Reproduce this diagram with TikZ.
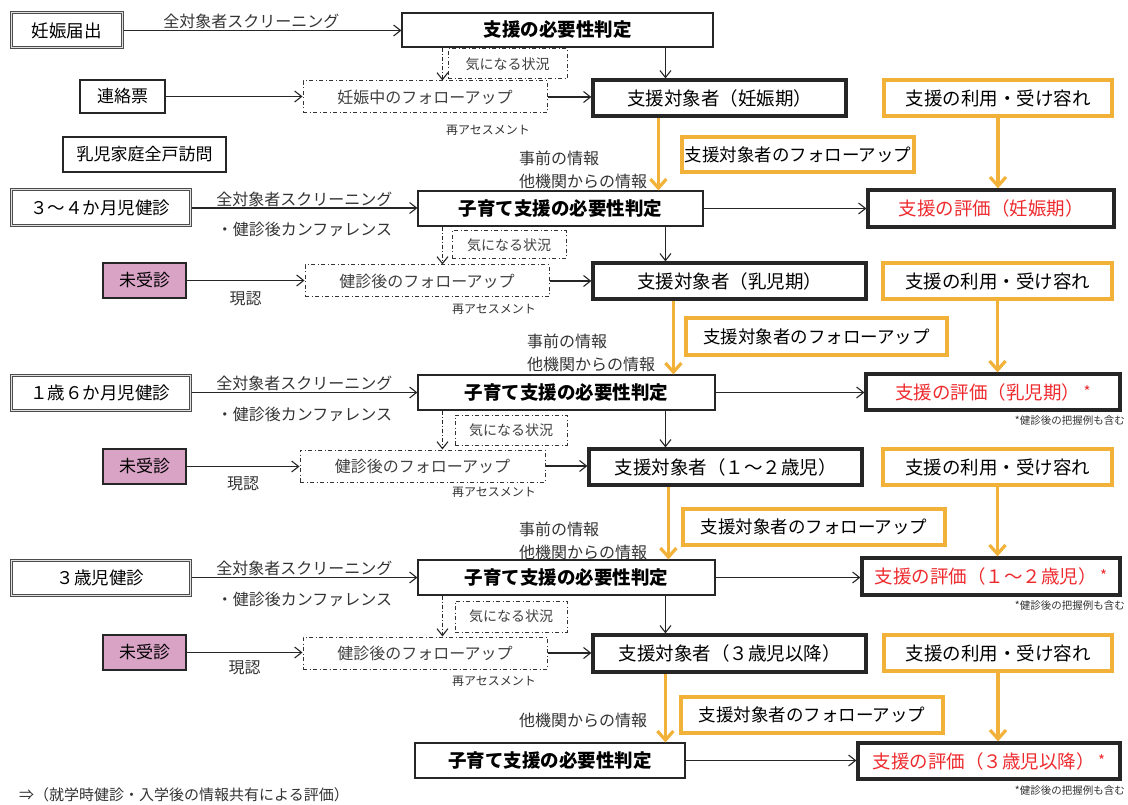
\documentclass[tikz,border=0pt]{standalone}
\usepackage{fontspec}
\setmainfont{Noto Sans CJK JP}
\usetikzlibrary{arrows.meta}
\definecolor{amber}{HTML}{F2B23A}
\definecolor{evalred}{HTML}{EE2A2E}
\definecolor{mauve}{HTML}{D9A3C6}
\newcommand{\evalstar}{\,\raisebox{2pt}{\fontsize{15}{15}\selectfont *}}

\begin{document}
\begin{tikzpicture}[x=1pt, y=-1pt,
  intake/.style={draw=black!70, line width=3pt, postaction={draw=black!12, line width=1pt}, minimum height=35pt, inner sep=0pt, font=\fontsize{17.5}{19}\selectfont},
  plain/.style={draw=black!85, line width=1.1pt, minimum height=34pt, inner sep=0pt, font=\fontsize{17}{19}\selectfont},
  miss/.style={plain, fill=mauve, minimum width=83, minimum height=35},
  judge/.style={draw=black!85, line width=1.1pt, minimum height=35pt, inner sep=0pt, font=\fontsize{18.5}{20}\selectfont\bfseries},
  target/.style={draw=black!85, line width=3.2pt, minimum height=36pt, inner sep=0pt, font=\fontsize{18.5}{20}\selectfont},
  evalbox/.style={target, text=evalred},
  useamb/.style={target, draw=amber, line width=3.1pt},
  ofubox/.style={useamb, font=\fontsize{17.5}{20}\selectfont},
  fubox/.style={draw=black!80, line width=1pt, dash pattern=on 4pt off 2.5pt on 1pt off 2.5pt, minimum height=32pt, inner sep=0pt, text=black!75, font=\fontsize{16}{18}\selectfont},
  worry/.style={fubox, font=\fontsize{14}{16}\selectfont},
  lbl/.style={inner sep=1pt, text=black!80, font=\fontsize{16}{18}\selectfont},
  info/.style={lbl, align=left, anchor=north west, font=\fontsize{16}{23}\selectfont},
  tiny/.style={inner sep=0pt, text=black!80, font=\fontsize{10.5}{12}\selectfont},
  reass/.style={tiny, font=\fontsize{12}{14}\selectfont},
  arr/.style={-{Straight Barb[length=7pt, width=11pt]}, line width=1.1pt, draw=black!85},
  dda/.style={arr, dash pattern=on 4pt off 2pt on 1pt off 2pt},
  amb/.style={-{Straight Barb[length=9pt, width=16pt]}, line width=3.2pt, draw=amber}
]
\useasboundingbox (0,0) rectangle (1128,805);

\node[intake, minimum width=111] (preg) at (66.5,30.5) {妊娠届出};
\node[judge, minimum width=311, minimum height=34] (judgeA) at (557.5,30) {支援の必要性判定};
\node[worry, minimum width=119, minimum height=30] (worryA) at (507.5,64) {気になる状況};
\node[plain, minimum width=85, minimum height=33] (memo) at (122.5,96.5) {連絡票};
\node[fubox, minimum width=244] (fuA) at (425,97) {妊娠中のフォローアップ};
\node[target, minimum width=253] (targA) at (719.5,98) {支援対象者（妊娠期）};
\node[useamb, minimum width=228] (useA) at (998,98) {支援の利用・受け容れ};
\node[reass] (reA) at (488,130) {再アセスメント};
\node[plain, minimum width=163, minimum height=35] (visit) at (144.5,154.5) {乳児家庭全戸訪問};
\node[ofubox, minimum width=232, minimum height=35] (ofuA) at (798,154.5) {支援対象者のフォローアップ};
\node[info] (infoA) at (518,150) {事前の情報\\他機関からの情報};

\node[intake, minimum width=179, minimum height=36] (chkA) at (100.5,208) {３～４か月児健診};
\node[judge, minimum width=285] (judgeB) at (560.5,208.5) {子育て支援の必要性判定};
\node[evalbox, minimum width=246, minimum height=37] (evalA) at (991,208.5) {支援の評価（妊娠期）};
\node[worry, minimum width=114, minimum height=28] (worryB) at (509,245) {気になる状況};
\node[miss] (missA) at (144.5,280.5) {未受診};
\node[fubox, minimum width=244] (fuB) at (427,281) {健診後のフォローアップ};
\node[target, minimum width=273] (targB) at (729.5,281) {支援対象者（乳児期）};
\node[useamb, minimum width=229] (useB) at (997.5,281) {支援の利用・受け容れ};
\node[reass] (reB) at (494,309) {再アセスメント};
\node[ofubox, minimum width=261, minimum height=37] (ofuB) at (816.5,336.5) {支援対象者のフォローアップ};
\node[info] (infoB) at (526,333) {事前の情報\\他機関からの情報};

\node[intake, minimum width=179] (chkB) at (100.5,392.5) {１歳６か月児健診};
\node[judge, minimum width=297] (judgeC) at (566.5,392.5) {子育て支援の必要性判定};
\node[evalbox, minimum width=254] (evalB) at (993,392) {支援の評価（乳児期）\evalstar};
\node[tiny, anchor=east] (noteB) at (1125,421) {*健診後の把握例も含む};
\node[worry, minimum width=112, minimum height=30] (worryC) at (511,430) {気になる状況};
\node[miss] (missB) at (144.5,466.5) {未受診};
\node[fubox, minimum width=245] (fuC) at (422.5,466) {健診後のフォローアップ};
\node[target, minimum width=273] (targC) at (725.5,467) {支援対象者（１～２歳児）};
\node[useamb, minimum width=229] (useC) at (997.5,467) {支援の利用・受け容れ};
\node[reass] (reC) at (494,492) {再アセスメント};
\node[ofubox, minimum width=262] (ofuC) at (814,527) {支援対象者のフォローアップ};
\node[info] (infoC) at (518,521) {事前の情報\\他機関からの情報};

\node[intake, minimum width=179] (chkC) at (100.5,577.5) {３歳児健診};
\node[judge, minimum width=297] (judgeD) at (566.5,577.5) {子育て支援の必要性判定};
\node[evalbox, minimum width=258, minimum height=37] (evalC) at (991,576.5) {支援の評価（１～２歳児）\evalstar};
\node[tiny, anchor=east] (noteC) at (1125,606) {*健診後の把握例も含む};
\node[worry, minimum width=112, minimum height=31] (worryD) at (511,616.5) {気になる状況};
\node[miss] (missC) at (144.5,652.5) {未受診};
\node[fubox, minimum width=244] (fuD) at (425,653) {健診後のフォローアップ};
\node[target, minimum width=273, minimum height=37] (targD) at (729.5,653.5) {支援対象者（３歳児以降）};
\node[useamb, minimum width=228] (useD) at (998,653) {支援の利用・受け容れ};
\node[reass] (reD) at (494,681) {再アセスメント};
\node[ofubox, minimum width=262] (ofuD) at (812,715) {支援対象者のフォローアップ};
\node[info] (infoD) at (518,712) {他機関からの情報};

\node[judge, minimum width=270] (judgeE) at (550,760.5) {子育て支援の必要性判定};
\node[evalbox, minimum width=262] (evalD) at (989,761) {支援の評価（３歳児以降）\evalstar};
\node[tiny, anchor=east] (noteD) at (1125,791) {*健診後の把握例も含む};
\node[lbl, anchor=west, font=\fontsize{15}{17}\selectfont] (after) at (18,795) {⇒（就学時健診・入学後の情報共有による評価）};

\draw[arr] (preg.east) -- node[lbl, above, pos=0.46] (scrA) {全対象者スクリーニング} (preg.east -| judgeA.west);
\draw[dda] ([xshift=41]judgeA.south west) -- ([xshift=41]judgeA.south west |- fuA.north);
\draw[arr] ([xshift=264]judgeA.south west) -- ([xshift=264]judgeA.south west |- targA.north);
\draw[arr] (memo.east) -- (memo.east -| fuA.west);
\draw[arr] (fuA.east) -- (fuA.east -| targA.west);
\draw[amb] ([xshift=67]targA.south west) -- ([xshift=67]targA.south west |- judgeB.north);
\draw[amb] (useA.south) -- (useA.south |- evalA.north);

\draw[arr] (chkA.east) -- node[lbl, above] (scrB) {全対象者スクリーニング} node[lbl, below=13pt] (confB) {・健診後カンファレンス} (chkA.east -| judgeB.west);
\draw[arr] (judgeB.east) -- (judgeB.east -| evalA.west);
\draw[dda] ([xshift=25]judgeB.south west) -- ([xshift=25]judgeB.south west |- fuB.north);
\draw[arr] ([xshift=248]judgeB.south west) -- ([xshift=248]judgeB.south west |- targB.north);
\draw[arr] (missA.east) -- node[lbl, below=10pt] (seenA) {現認} (missA.east -| fuB.west);
\draw[arr] (fuB.east) -- (fuB.east -| targB.west);
\draw[amb] ([xshift=82]targB.south west) -- ([xshift=82]targB.south west |- judgeC.north);
\draw[amb] (useB.south) -- (useB.south |- evalB.north);

\draw[arr] (chkB.east) -- node[lbl, above] (scrC) {全対象者スクリーニング} node[lbl, below=13pt] (confC) {・健診後カンファレンス} (chkB.east -| judgeC.west);
\draw[arr] (judgeC.east) -- (judgeC.east -| evalB.west);
\draw[dda] ([xshift=25]judgeC.south west) -- ([xshift=25]judgeC.south west |- fuC.north);
\draw[arr] ([xshift=248]judgeC.south west) -- ([xshift=248]judgeC.south west |- targC.north);
\draw[arr] (missB.east) -- node[lbl, below=9pt] (seenB) {現認} (missB.east -| fuC.west);
\draw[arr] (fuC.east) -- (fuC.east -| targC.west);
\draw[amb] ([xshift=81]targC.south west) -- ([xshift=81]targC.south west |- judgeD.north);
\draw[amb] (useC.south) -- (useC.south |- evalC.north);

\draw[arr] (chkC.east) -- node[lbl, above] (scrD) {全対象者スクリーニング} node[lbl, below=13pt] (confD) {・健診後カンファレンス} (chkC.east -| judgeD.west);
\draw[arr] (judgeD.east) -- (judgeD.east -| evalC.west);
\draw[dda] ([xshift=25]judgeD.south west) -- ([xshift=25]judgeD.south west |- fuD.north);
\draw[arr] ([xshift=248]judgeD.south west) -- ([xshift=248]judgeD.south west |- targD.north);
\draw[arr] (missC.east) -- node[lbl, below=7pt] (seenC) {現認} (missC.east -| fuD.west);
\draw[arr] (fuD.east) -- (fuD.east -| targD.west);
\draw[amb] ([xshift=74]targD.south west) -- ([xshift=74]targD.south west |- judgeE.north);
\draw[amb] (useD.south) -- (useD.south |- evalD.north);

\draw[arr] (judgeE.east) -- (judgeE.east -| evalD.west);

\end{tikzpicture}
\end{document}
